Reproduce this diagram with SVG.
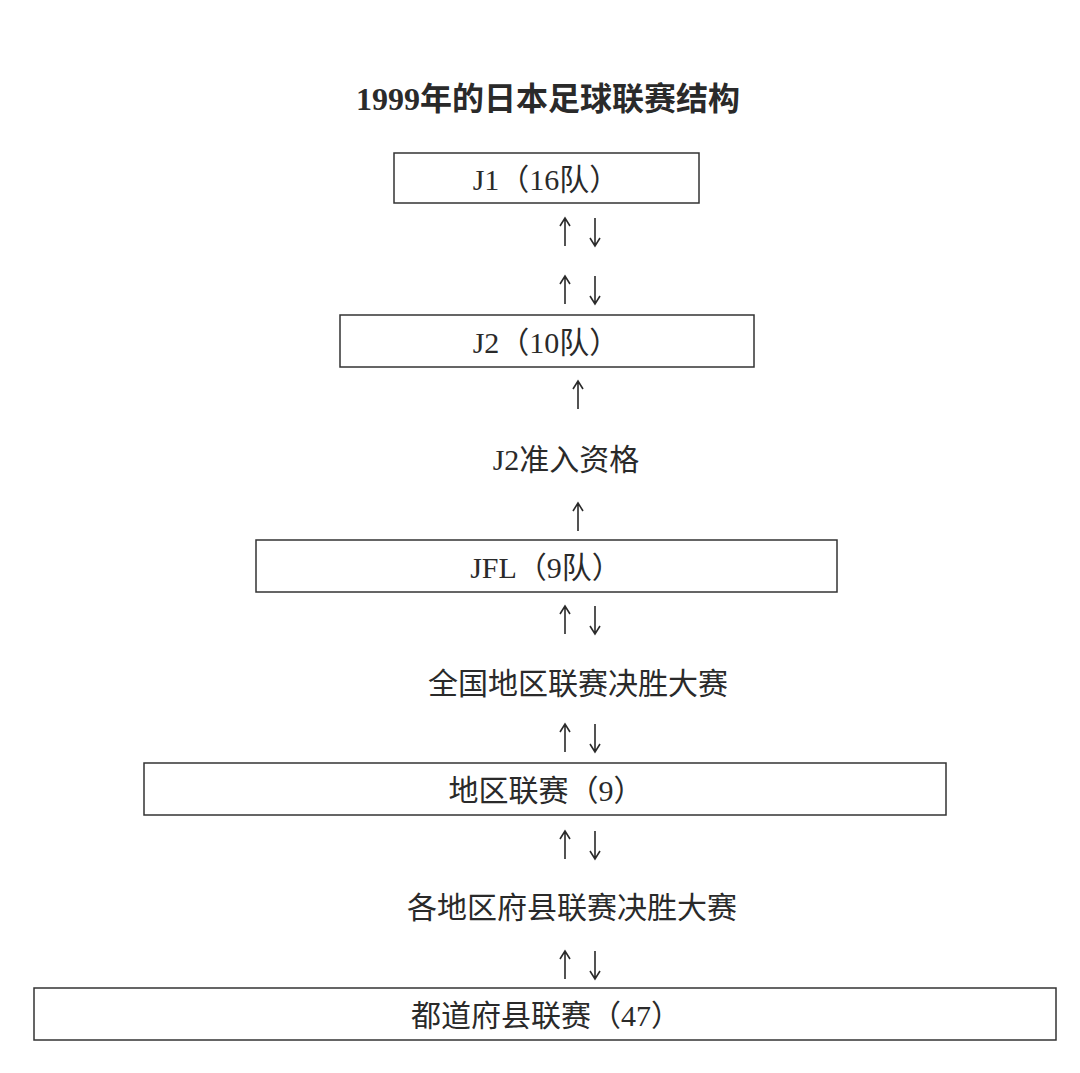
<svg xmlns="http://www.w3.org/2000/svg" width="1080" height="1073" viewBox="0 0 1080 1073">
<defs>
<path id="u" d="M0,0 V28 M-5,8 L0,0 L5,8"/>
<path id="d" d="M0,0 V28 M-5,20 L0,28 L5,20"/>
</defs>
<style>
text{font-family:"Liberation Serif","Noto Sans CJK SC",serif;fill:#2a2a2a;text-anchor:middle}
.t{font-size:30px}
.box{fill:#fff;stroke:#333;stroke-width:1.5}
#connectors use{stroke:#2a2a2a;stroke-width:1.6;fill:none}
</style>
<rect width="1080" height="1073" fill="#fff"/>
<text x="548" y="110" style="font-size:32px;font-weight:bold">1999年的日本足球联赛结构</text>
<g id="j1"><rect class="box" x="394" y="153" width="305" height="50"/><text class="t" x="546" y="190">J1（16队）</text></g>
<g id="j2"><rect class="box" x="340" y="315" width="414" height="52"/><text class="t" x="546" y="353">J2（10队）</text></g>
<g id="j2q"><text class="t" x="566" y="470">J2准入资格</text></g>
<g id="jfl"><rect class="box" x="256" y="540" width="581" height="52"/><text class="t" x="546" y="578">JFL（9队）</text></g>
<g id="national"><text class="t" x="578" y="694">全国地区联赛决胜大赛</text></g>
<g id="regional"><rect class="box" x="144" y="763" width="802" height="52"/><text class="t" x="546" y="801">地区联赛（9）</text></g>
<g id="pref-final"><text class="t" x="572" y="918">各地区府县联赛决胜大赛</text></g>
<g id="pref"><rect class="box" x="34" y="988" width="1022" height="52"/><text class="t" x="546" y="1026">都道府县联赛（47）</text></g>
<g id="connectors">
<use href="#u" x="565" y="218"/><use href="#d" x="595" y="218"/>
<use href="#u" x="565" y="276"/><use href="#d" x="595" y="276"/>
<use href="#u" x="578" y="381"/>
<use href="#u" x="578" y="503"/>
<use href="#u" x="565" y="606"/><use href="#d" x="595" y="606"/>
<use href="#u" x="565" y="724"/><use href="#d" x="595" y="724"/>
<use href="#u" x="565" y="831"/><use href="#d" x="595" y="831"/>
<use href="#u" x="565" y="951"/><use href="#d" x="595" y="951"/>
</g>
</svg>
